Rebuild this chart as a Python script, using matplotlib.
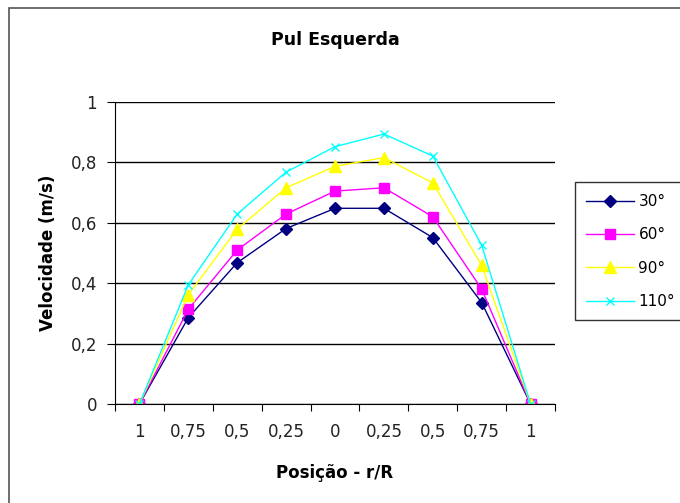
import matplotlib.pyplot as plt
from matplotlib.patches import Rectangle

plt.rcParams['font.family'] = ['DejaVu Sans']

# data
posicoes = ['1', '0,75', '0,5', '0,25', '0', '0,25', '0,5', '0,75', '1']
v30 = [0, 0.286, 0.468, 0.581, 0.648, 0.648, 0.551, 0.336, 0]
v60 = [0, 0.314, 0.510, 0.629, 0.705, 0.716, 0.620, 0.381, 0]
v90 = [0, 0.362, 0.579, 0.716, 0.787, 0.816, 0.732, 0.459, 0]
v110 = [0, 0.395, 0.629, 0.768, 0.852, 0.894, 0.821, 0.526, 0]
series = ['30°', '60°', '90°', '110°']

fig = plt.figure(figsize=(6.8, 5.03), dpi=100)
fig.patches.append(Rectangle((9/680, -0.05), 1.0, 1 - 8/503 + 0.05, transform=fig.transFigure,
                             fill=False, edgecolor='#555555', linewidth=1.2))
ax = fig.add_axes([115/680, 1 - 404/503, 440/680, 302/503])

x = range(len(posicoes))
ax.plot(x, v30, color='#000080', marker='D', markersize=6, lw=1, label=series[0])
ax.plot(x, v60, color='#ff00ff', marker='s', markersize=7, lw=1, label=series[1])
ax.plot(x, v90, color='#ffff00', marker='^', markersize=8, lw=1, label=series[2])
ax.plot(x, v110, color='#00ffff', marker='x', markersize=6, mew=1, lw=1, label=series[3])

ax.set_xlim(-0.5, len(posicoes) - 0.5)
ax.set_ylim(0, 1)
ax.set_yticks([0, 0.2, 0.4, 0.6, 0.8, 1.0])
ax.set_yticklabels(['0', '0,2', '0,4', '0,6', '0,8', '1'], fontsize=12, color='#222222')
ax.set_xticks([i - 0.5 for i in range(len(posicoes) + 1)])
ax.set_xticklabels([])
ax.set_xticks(list(x), minor=True)
ax.set_xticklabels(posicoes, minor=True, fontsize=12, color='#222222')
ax.tick_params(axis='x', which='major', length=5, color='black')
ax.tick_params(axis='x', which='minor', length=0, pad=14)
ax.tick_params(axis='y', length=6, pad=7)

ax.yaxis.grid(True, color='black', lw=1)
ax.set_axisbelow(True)
for s in ['top', 'right']:
    ax.spines[s].set_visible(False)
ax.spines['left'].set_color('black')
ax.spines['bottom'].set_color('black')

ax.set_title('Pul Esquerda', fontsize=12.5, fontweight='bold', pad=41)
ax.set_ylabel('Velocidade (m/s)', fontsize=12, fontweight='bold', labelpad=10)
ax.set_xlabel('Posição - r/R', fontsize=12, fontweight='bold', labelpad=16)

leg = fig.legend(loc='upper left', bbox_to_anchor=(575/680, 1 - 183/503, 130/680, 0.001),
                 mode='expand', fontsize=11, frameon=True, fancybox=False, edgecolor='black',
                 borderpad=0.75, labelspacing=1.2, handlelength=3.1, handletextpad=0.3,
                 borderaxespad=0)
leg.get_frame().set_linewidth(1)

fig.savefig('out.png', dpi=100)
